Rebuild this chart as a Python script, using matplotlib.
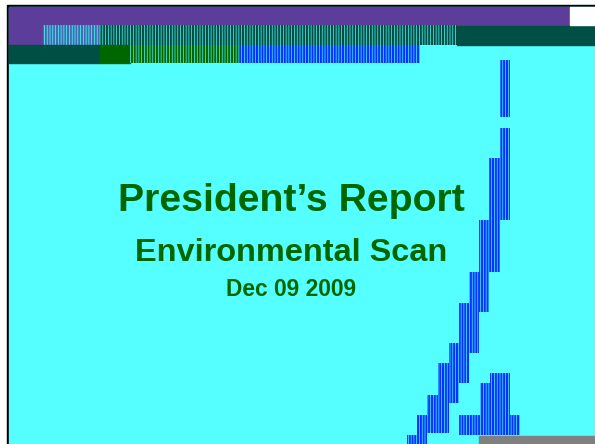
import matplotlib.pyplot as plt
from matplotlib.patches import Rectangle

# slide text
title = "President\u2019s Report"
subtitle = "Environmental Scan"
date_text = "Dec 09 2009"

# colours
bg = "#55ffff"
purple = "#5c3d99"
teal = "#004f44"
dgreen = "#006600"
blue = "#0033ff"

# blue tower pieces (x0, y0, x1, y1) in slide pixels
tower = [
    (500, 60, 510, 117), (500, 128, 510, 220), (489, 158, 500, 272),
    (479, 220, 489, 312), (469, 272, 479, 353), (459, 303, 469, 383),
    (449, 343, 459, 403), (438, 363, 449, 433), (427, 395, 438, 433),
    (417, 415, 427, 444), (407, 435, 417, 444),
    (480, 383, 490, 435), (490, 373, 510, 435), (459, 415, 480, 435),
    (510, 415, 520, 435),
]

# garbled header blocks (x0, y0, x1, y1, colour, hatched)
header = [
    (9, 7, 570, 25, purple, False),
    (9, 25, 43, 45, purple, False),
    (43, 25, 100, 45, "#3f6fb0", True),
    (100, 25, 457, 45, teal, True),
    (457, 26, 595, 45, teal, False),
    (9, 45, 100, 63, teal, False),
    (100, 45, 130, 63, dgreen, False),
    (130, 45, 240, 63, dgreen, True),
    (240, 45, 420, 63, blue, True),
    (570, 7, 595, 25, "white", False),
]

plt.rcParams["hatch.linewidth"] = 1.5

fig = plt.figure(figsize=(5.95, 4.44), dpi=100)
ax = fig.add_axes([0, 0, 1, 1])
ax.set_xlim(0, 595)
ax.set_ylim(444, 0)
ax.axis("off")

ax.add_patch(Rectangle((0, 0), 595, 444, color="white"))
ax.add_patch(Rectangle((7, 5), 588, 439, color="black"))
ax.add_patch(Rectangle((9, 7), 586, 437, color=bg))

for x0, y0, x1, y1, c, h in header:
    if h:
        ax.add_patch(Rectangle((x0, y0), x1 - x0, y1 - y0, facecolor=bg,
                               edgecolor=c, hatch="||||||", lw=0))
    else:
        ax.add_patch(Rectangle((x0, y0), x1 - x0, y1 - y0, color=c))

for x0, y0, x1, y1 in tower:
    ax.add_patch(Rectangle((x0, y0), x1 - x0, y1 - y0, facecolor=bg,
                           edgecolor=blue, hatch="||||||", lw=0))

ax.add_patch(Rectangle((479, 436), 116, 8, color="#808080"))

font = ["Liberation Sans", "DejaVu Sans"]
ax.text(291, 201, title, ha="center", va="center", fontsize=28.3,
        fontweight="bold", color=dgreen, family=font)
ax.text(291, 253, subtitle, ha="center", va="center", fontsize=23.4,
        fontweight="bold", color=dgreen, family=font)
ax.text(291, 289, date_text, ha="center", va="center", fontsize=16.4,
        fontweight="bold", color=dgreen, family=font)

fig.savefig("out.png", dpi=100)
